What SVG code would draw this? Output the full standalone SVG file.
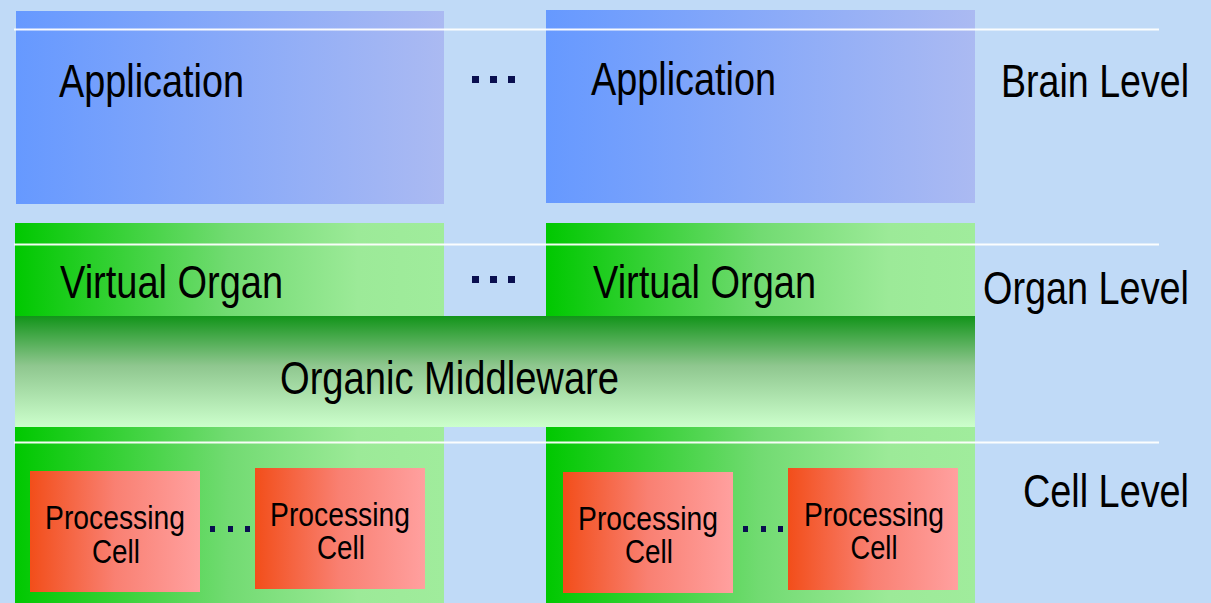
<svg xmlns="http://www.w3.org/2000/svg" width="1211" height="603" viewBox="0 0 1211 603">
  <defs>
    <linearGradient id="gBlue" x1="0" y1="0" x2="1" y2="0">
      <stop offset="0" stop-color="#6699FF"/>
      <stop offset="1" stop-color="#ABBAF2"/>
    </linearGradient>
    <linearGradient id="gGreen" x1="0" y1="0" x2="1" y2="0">
      <stop offset="0" stop-color="#00C800"/>
      <stop offset="0.5" stop-color="#72DB72"/>
      <stop offset="0.8" stop-color="#9CEA98"/>
      <stop offset="1" stop-color="#A0EC9C"/>
    </linearGradient>
    <linearGradient id="gMiddle" x1="0" y1="0" x2="0" y2="1">
      <stop offset="0" stop-color="#12941A"/>
      <stop offset="0.45" stop-color="#8FC78F"/>
      <stop offset="1" stop-color="#CCFFCC"/>
    </linearGradient>
    <linearGradient id="gCell" x1="0" y1="0" x2="1" y2="0">
      <stop offset="0" stop-color="#F24E1A"/>
      <stop offset="0.5" stop-color="#F98072"/>
      <stop offset="1" stop-color="#FFA09F"/>
    </linearGradient>
  </defs>
  <style>
    text { font-family: "Liberation Sans Narrow", "Liberation Sans", Arial, sans-serif; fill: #000; }
    .big { font-size: 46px; }
    .small { font-size: 33px; text-anchor: middle; }
    .lvl { font-size: 46px; text-anchor: end; }
    .dot { fill: #0A0F50; }
    .sep { stroke: #FFFFFF; stroke-width: 2; opacity: 0.95; }
  </style>

  <!-- background -->
  <rect x="0" y="0" width="1211" height="603" fill="#C0DAF7"/>

  <!-- brain level -->
  <g id="app1">
    <rect x="16" y="11" width="428" height="193" fill="url(#gBlue)"/>
    <text class="big" x="59" y="97" textLength="185" lengthAdjust="spacingAndGlyphs">Application</text>
  </g>
  <g id="app2">
    <rect x="546" y="10" width="429" height="193" fill="url(#gBlue)"/>
    <text class="big" x="591" y="95" textLength="185" lengthAdjust="spacingAndGlyphs">Application</text>
  </g>
  <g id="app-dots">
    <rect class="dot" x="472" y="76" width="7" height="7"/>
    <rect class="dot" x="490" y="76" width="7" height="7"/>
    <rect class="dot" x="508" y="76" width="7" height="7"/>
  </g>

  <!-- organ level -->
  <g id="organ1">
    <rect x="15" y="223" width="429" height="93" fill="url(#gGreen)"/>
    <text class="big" x="60" y="298" textLength="223" lengthAdjust="spacingAndGlyphs">Virtual Organ</text>
  </g>
  <g id="organ2">
    <rect x="546" y="223" width="429" height="93" fill="url(#gGreen)"/>
    <text class="big" x="593" y="298" textLength="223" lengthAdjust="spacingAndGlyphs">Virtual Organ</text>
  </g>
  <g id="organ-dots">
    <rect class="dot" x="472" y="276" width="7" height="7"/>
    <rect class="dot" x="490" y="276" width="7" height="7"/>
    <rect class="dot" x="508" y="276" width="7" height="7"/>
  </g>
  <g id="middleware">
    <rect x="15" y="316" width="960" height="111" fill="url(#gMiddle)"/>
    <text class="big" x="280" y="394" textLength="339" lengthAdjust="spacingAndGlyphs">Organic Middleware</text>
  </g>

  <!-- cell level -->
  <g id="cellgroup1">
    <rect x="15" y="427" width="429" height="176" fill="url(#gGreen)"/>
  </g>
  <g id="cellgroup2">
    <rect x="546" y="427" width="429" height="176" fill="url(#gGreen)"/>
  </g>
  <g id="cell1">
    <rect x="30" y="471" width="170" height="121" fill="url(#gCell)"/>
    <text class="small" x="115" y="529" textLength="140" lengthAdjust="spacingAndGlyphs">Processing</text>
    <text class="small" x="116" y="563" textLength="48" lengthAdjust="spacingAndGlyphs">Cell</text>
  </g>
  <g id="cell2">
    <rect x="255" y="468" width="170" height="121" fill="url(#gCell)"/>
    <text class="small" x="340" y="526" textLength="140" lengthAdjust="spacingAndGlyphs">Processing</text>
    <text class="small" x="341" y="559" textLength="48" lengthAdjust="spacingAndGlyphs">Cell</text>
  </g>
  <g id="cell3">
    <rect x="563" y="472" width="170" height="121" fill="url(#gCell)"/>
    <text class="small" x="648" y="530" textLength="140" lengthAdjust="spacingAndGlyphs">Processing</text>
    <text class="small" x="649" y="563" textLength="48" lengthAdjust="spacingAndGlyphs">Cell</text>
  </g>
  <g id="cell4">
    <rect x="788" y="468" width="170" height="122" fill="url(#gCell)"/>
    <text class="small" x="874" y="526" textLength="140" lengthAdjust="spacingAndGlyphs">Processing</text>
    <text class="small" x="874" y="559" textLength="47" lengthAdjust="spacingAndGlyphs">Cell</text>
  </g>
  <g id="cell-dots">
    <rect class="dot" x="210" y="526" width="5" height="6"/>
    <rect class="dot" x="228" y="526" width="5" height="6"/>
    <rect class="dot" x="245" y="526" width="5" height="6"/>
    <rect class="dot" x="743" y="526" width="5" height="6"/>
    <rect class="dot" x="761" y="526" width="5" height="6"/>
    <rect class="dot" x="778" y="526" width="5" height="6"/>
  </g>

  <!-- level separators -->
  <g id="separators">
    <line class="sep" x1="14" y1="29.5" x2="1159" y2="29.5"/>
    <line class="sep" x1="14" y1="244.5" x2="1159" y2="244.5"/>
    <line class="sep" x1="14" y1="442.5" x2="1159" y2="442.5"/>
  </g>

  <!-- level labels -->
  <g id="levels">
    <text class="lvl" x="1189" y="97" textLength="188" lengthAdjust="spacingAndGlyphs">Brain Level</text>
    <text class="lvl" x="1189" y="304" textLength="206" lengthAdjust="spacingAndGlyphs">Organ Level</text>
    <text class="lvl" x="1189" y="507" textLength="166" lengthAdjust="spacingAndGlyphs">Cell Level</text>
  </g>
</svg>
